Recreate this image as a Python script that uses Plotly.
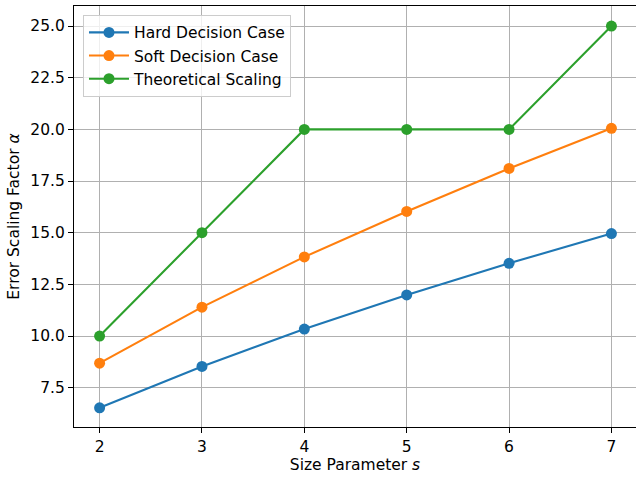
import plotly.graph_objects as go

s_values = [2, 3, 4, 5, 6, 7]
hard_case = [6.53, 8.53, 10.34, 11.99, 13.52, 14.96]
soft_case = [8.69, 11.40, 13.83, 16.03, 18.11, 20.05]
theoretical = [10, 15, 20, 20, 20, 25]

series_names = ["Hard Decision Case", "Soft Decision Case", "Theoretical Scaling"]
series_values = [hard_case, soft_case, theoretical]
colors = ["#1f77b4", "#ff7f0e", "#2ca02c"]

y_ticks = [7.5, 10.0, 12.5, 15.0, 17.5, 20.0, 22.5, 25.0]
x_ticks = [2, 3, 4, 5, 6, 7]

fig = go.Figure()
for name, vals, c in zip(series_names, series_values, colors):
    fig.add_trace(go.Scatter(
        x=s_values, y=vals, name=name, mode="lines+markers",
        line=dict(color=c, width=2.1),
        marker=dict(color=c, size=11),
    ))

font = dict(family="DejaVu Sans", size=15.5, color="#000000")
fig.update_layout(
    width=636, height=477,
    margin=dict(l=74, r=0, t=6, b=50, autoexpand=False),
    paper_bgcolor="white", plot_bgcolor="white",
    font=font,
    showlegend=True,
    legend=dict(
        x=0.016, y=0.979, xanchor="left", yanchor="top",
        bgcolor="rgba(255,255,255,0.8)", bordercolor="#cccccc", borderwidth=1,
        font=font,
        tracegroupgap=0, itemwidth=40,
    ),
    xaxis=dict(
        range=[1.75, 7.24], tickvals=x_ticks, ticktext=[str(t) for t in x_ticks],
        showgrid=True, gridcolor="#b0b0b0", gridwidth=1,
        showline=True, linecolor="black", linewidth=1.1, mirror=True,
        ticks="outside", ticklen=5, tickcolor="black", tickwidth=1,
        zeroline=False,
        title=dict(text="Size Parameter <i>s</i>", font=font, standoff=4),
    ),
    yaxis=dict(
        range=[5.6, 25.97], tickvals=y_ticks, ticktext=[f"{t:.1f}" for t in y_ticks],
        showgrid=True, gridcolor="#b0b0b0", gridwidth=1,
        showline=True, linecolor="black", linewidth=1.1, mirror=True,
        ticks="outside", ticklen=5, tickcolor="black", tickwidth=1,
        zeroline=False,
        title=dict(text="Error Scaling Factor <i>α</i>", font=font, standoff=6),
    ),
)

fig.write_html("out.html", config={"displayModeBar": False},
               post_script="document.body.style.margin='0';")
